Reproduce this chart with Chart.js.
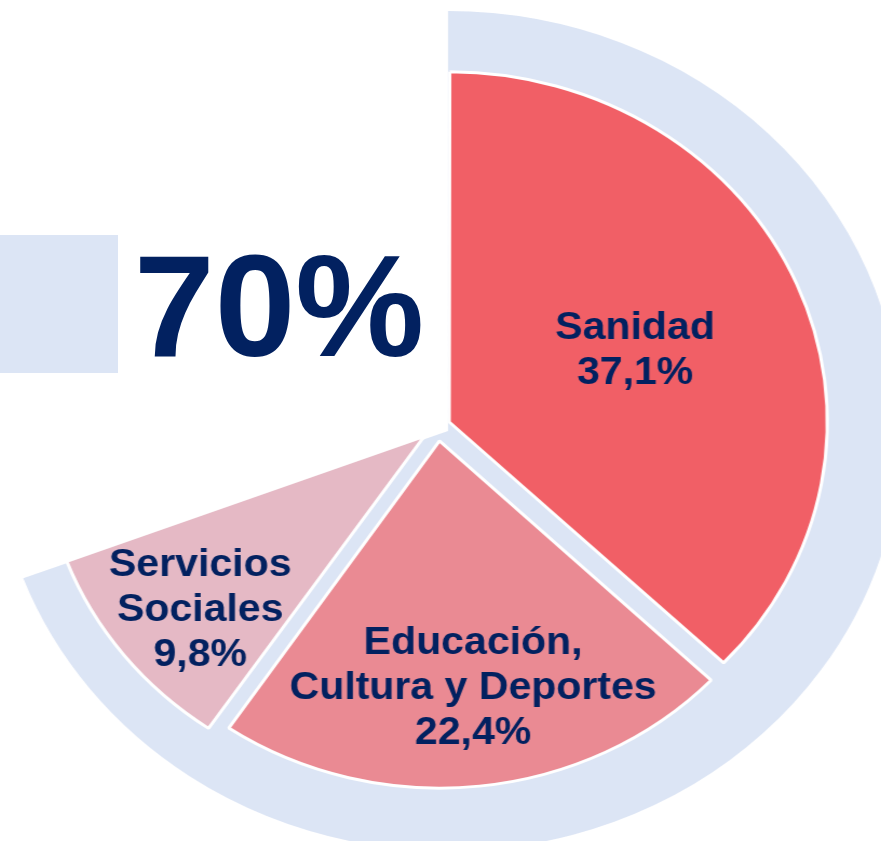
<!DOCTYPE html>
<html lang="es">
<head>
<meta charset="utf-8">
<title>Gasto social</title>
<script src="https://cdn.jsdelivr.net/npm/chart.js@4.4.0/dist/chart.umd.min.js"></script>
<style>
    html, body { margin: 0; padding: 0; background: #fff; overflow: hidden; }
    #page { position: relative; width: 881px; height: 841px; overflow: hidden; }
    /* the original picture is a little wider than tall, so the chart is stretched */
    #stretch { position: absolute; left: 0; top: 0; width: 881px; height: 841px;
               transform: scaleX(1.08); transform-origin: 448px 0; }
    #stretch canvas { position: absolute; left: 0; top: 0; }
    #box { position: absolute; left: 0; top: 235px; width: 118px; height: 138px; background: #dce5f5; }
    #total { position: absolute; left: 134px; top: 234px; color: #022160;
             font: bold 145px "Liberation Sans", Arial, sans-serif; line-height: 145px; }
</style>
</head>
<body>
<div id="page">
    <div id="box"></div>
    <div id="stretch">
        <canvas id="ringChart" width="881" height="841"></canvas>
        <canvas id="sliceChart" width="881" height="841"></canvas>
    </div>
    <div id="total"></div>
</div>
<script>
// data
const categories = [['Sanidad'], ['Educación,', 'Cultura y Deportes'], ['Servicios', 'Sociales']];
const shares = [37.1, 22.4, 9.8];
const headlineValue = 70;

const sliceColors = ['#f15f66', '#ea8a93', '#e5b9c5'];
const ringColor = '#dce5f5';
const textColor = '#022160';
const offsets = [46, 58, 64];            // explode distance (Chart.js moves arcs by offset / 4)
const labelRadius = [0.54, 0.71, 0.775]; // where each label sits along the slice
const labelTurn = [0, -0.02, -0.024];    // small angular nudge of each label (radians)

const sharesSum = shares.reduce((a, b) => a + b, 0);
const rest = 100 - sharesSum;

function fmt(v) {
    return v.toFixed(1).replace('.', ',') + '%';
}

document.getElementById('total').textContent = headlineValue + '%';

// labels inside the slices
const sliceLabels = {
    id: 'sliceLabels',
    afterDatasetsDraw(chart, args, opts) {
        const ctx = chart.ctx;
        const arcs = chart.getDatasetMeta(0).data;
        ctx.save();
        ctx.fillStyle = opts.color;
        ctx.font = opts.font;
        ctx.textAlign = 'center';
        ctx.textBaseline = 'alphabetic';
        categories.forEach((lines, i) => {
            const p = arcs[i].getProps(['x', 'y', 'startAngle', 'endAngle', 'outerRadius']);
            const mid = (p.startAngle + p.endAngle) / 2;
            const shift = offsets[i] / 4;
            const r = p.outerRadius * labelRadius[i];
            const cx = p.x + Math.cos(mid) * shift + Math.cos(mid + labelTurn[i]) * r;
            const cy = p.y + Math.sin(mid) * shift + Math.sin(mid + labelTurn[i]) * r;
            const text = lines.concat([fmt(shares[i])]);
            const top = cy - ((text.length - 1) * opts.lineHeight + opts.capHeight) / 2;
            text.forEach((t, k) => {
                ctx.fillText(t, cx, top + opts.capHeight + k * opts.lineHeight);
            });
        });
        ctx.restore();
    }
};

// light blue sector behind the slices
const ringChart = new Chart(document.getElementById('ringChart'), {
    type: 'pie',
    data: {
        labels: ['Total', ''],
        datasets: [{
            data: [sharesSum, rest],
            backgroundColor: [ringColor, 'rgba(0,0,0,0)'],
            borderWidth: 0,
            radius: 420
        }]
    },
    options: {
        responsive: false,
        animation: false,
        events: [],
        layout: { padding: { left: 15, top: 21, right: 0, bottom: 0 } },
        plugins: {
            legend: { display: false },
            tooltip: { enabled: false }
        }
    }
});

// the three exploded slices
const sliceChart = new Chart(document.getElementById('sliceChart'), {
    type: 'pie',
    data: {
        labels: categories.map(c => c.join(' ')).concat(['']),
        datasets: [{
            data: shares.concat([rest]),
            backgroundColor: sliceColors.concat(['rgba(0,0,0,0)']),
            borderColor: ['#ffffff', '#ffffff', '#ffffff', 'rgba(0,0,0,0)'],
            borderWidth: 3,
            offset: offsets.concat([0]),
            radius: 347
        }]
    },
    options: {
        responsive: false,
        animation: false,
        events: [],
        layout: { padding: { left: 0, top: 12, right: 4, bottom: 0 } },
        plugins: {
            legend: { display: false },
            tooltip: { enabled: false },
            sliceLabels: {
                color: textColor,
                font: 'bold 38px "Liberation Sans", Arial, sans-serif',
                lineHeight: 45,
                capHeight: 27
            }
        }
    },
    plugins: [sliceLabels]
});
</script>
</body>
</html>
